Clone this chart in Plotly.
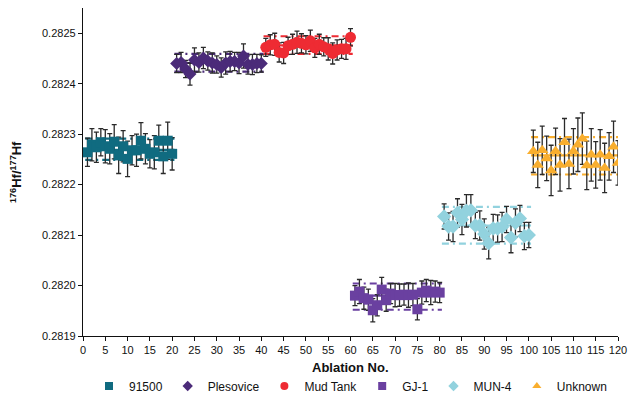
import plotly.graph_objects as go

# ---- data ----
names = ["91500", "Plesovice", "Mud Tank", "GJ-1", "MUN-4", "Unknown"]

x_91500 = list(range(1, 21))
y_91500 = [0.282264, 0.282279, 0.282274, 0.282284, 0.282276, 0.282271, 0.282285, 0.282258, 0.282276, 0.282251,
           0.282268, 0.282268, 0.282287, 0.282271, 0.282261, 0.282264, 0.282287, 0.282256, 0.282287, 0.282261]
e_91500 = [0.000028, 0.000032, 0.000030, 0.000027, 0.000033, 0.000030, 0.000034, 0.000036, 0.000031, 0.000035,
           0.000029, 0.000032, 0.000036, 0.000030, 0.000028, 0.000033, 0.000031, 0.000034, 0.000037, 0.000032]

x_ples = list(range(21, 41))
y_ples = [0.282440, 0.282442, 0.282429, 0.282419, 0.282447, 0.282442, 0.282451, 0.282445, 0.282441, 0.282438,
          0.282432, 0.282441, 0.282444, 0.282444, 0.282441, 0.282455, 0.282438, 0.282438, 0.282440, 0.282440]
e_ples = [0.000018, 0.000020, 0.000017, 0.000022, 0.000024, 0.000019, 0.000021, 0.000018, 0.000020, 0.000017,
          0.000019, 0.000022, 0.000020, 0.000018, 0.000021, 0.000024, 0.000019, 0.000020, 0.000018, 0.000017]

x_mud = list(range(41, 61))
y_mud = [0.282472, 0.282477, 0.282478, 0.282462, 0.282461, 0.282475, 0.282478, 0.282482, 0.282480, 0.282477,
         0.282485, 0.282471, 0.282478, 0.282473, 0.282469, 0.282460, 0.282467, 0.282469, 0.282469, 0.282492]
e_mud = [0.000018, 0.000020, 0.000022, 0.000019, 0.000021, 0.000017, 0.000020, 0.000022, 0.000019, 0.000018,
         0.000021, 0.000019, 0.000020, 0.000018, 0.000022, 0.000021, 0.000020, 0.000019, 0.000021, 0.000017]

x_gj1 = list(range(61, 81))
y_gj1 = [0.281980, 0.281988, 0.281975, 0.281972, 0.281951, 0.281961, 0.281992, 0.281971, 0.281984, 0.281981,
         0.281981, 0.281982, 0.281981, 0.281982, 0.281953, 0.281986, 0.281990, 0.281986, 0.281988, 0.281986]
e_gj1 = [0.000020, 0.000024, 0.000022, 0.000021, 0.000023, 0.000021, 0.000024, 0.000022, 0.000020, 0.000023,
         0.000022, 0.000021, 0.000024, 0.000022, 0.000021, 0.000023, 0.000022, 0.000024, 0.000021, 0.000020]

x_mun = list(range(81, 101))
y_mun = [0.282137, 0.282117, 0.282117, 0.282144, 0.282131, 0.282148, 0.282149, 0.282119, 0.282119, 0.282102,
         0.282084, 0.282113, 0.282113, 0.282116, 0.282131, 0.282095, 0.282124, 0.282133, 0.282098, 0.282100]
e_mun = [0.000025, 0.000027, 0.000030, 0.000028, 0.000030, 0.000032, 0.000031, 0.000026, 0.000029, 0.000030,
         0.000031, 0.000028, 0.000027, 0.000029, 0.000026, 0.000030, 0.000028, 0.000026, 0.000027, 0.000025]

x_unk = list(range(101, 121))
y_unk = [0.282266, 0.282239, 0.282268, 0.282252, 0.282228, 0.282266, 0.282239, 0.282284, 0.282241, 0.282266,
         0.282279, 0.282291, 0.282238, 0.282259, 0.282239, 0.282259, 0.282233, 0.282256, 0.282275, 0.282243]
e_unk = [0.000042, 0.000045, 0.000048, 0.000044, 0.000050, 0.000046, 0.000052, 0.000047, 0.000049, 0.000045,
         0.000053, 0.000051, 0.000048, 0.000052, 0.000046, 0.000050, 0.000049, 0.000047, 0.000051, 0.000044]

# reference lines (mean, upper, lower) per group
ref_mean = [0.282269, 0.282441, 0.282476, 0.281980, 0.282119, 0.282258]
ref_upper = [0.282291, 0.282459, 0.282494, 0.282004, 0.282156, 0.282294]
ref_lower = [0.282249, 0.282424, 0.282459, 0.281952, 0.282083, 0.282220]
group_start = [1, 21, 41, 61, 81, 101]
group_end = [20, 40, 60, 80, 100, 120]

x_ticks = list(range(0, 121, 5))
y_ticks = [0.2819, 0.2820, 0.2821, 0.2822, 0.2823, 0.2824, 0.2825]
x_title = "<b>Ablation No.</b>"
y_title = "<b><sup>176</sup>Hf/<sup>177</sup>Hf</b>"

# ---- style ----
colors = ["#106B80", "#4B2B79", "#EE2B33", "#6A40A0", "#92D2DE", "#F9AE2E"]
symbols = ["square", "diamond", "circle", "square", "diamond", "triangle-up"]
sizes = [10, 10, 11, 10, 11, 11]
legend_sizes = [8, 8, 8, 8, 8, 8]

xs = [x_91500, x_ples, x_mud, x_gj1, x_mun, x_unk]
ys = [y_91500, y_ples, y_mud, y_gj1, y_mun, y_unk]
es = [e_91500, e_ples, e_mud, e_gj1, e_mun, e_unk]

fig = go.Figure()

for i in range(6):
    xr = [group_start[i] - 0.5, group_end[i] + 0.5]
    fig.add_trace(go.Scatter(x=xr, y=[ref_mean[i]] * 2, mode="lines",
                             line=dict(color=colors[i], width=2.2), showlegend=False, hoverinfo="skip"))
    for v in (ref_upper[i], ref_lower[i]):
        fig.add_trace(go.Scatter(x=xr, y=[v] * 2, mode="lines",
                                 line=dict(color=colors[i], width=2.2, dash="7px,4px,2px,4px"),
                                 showlegend=False, hoverinfo="skip"))

for i in range(6):
    fig.add_trace(go.Scatter(
        x=xs[i], y=ys[i], mode="markers", name=names[i], showlegend=False,
        marker=dict(symbol=symbols[i], size=sizes[i], color=colors[i], line=dict(width=0)),
        error_y=dict(type="data", array=es[i], visible=True, color="#2a2a2a", thickness=1.3, width=2.5),
    ))

# legend entries (small symbols as in the reference)
for i in range(6):
    fig.add_trace(go.Scatter(
        x=[None], y=[None], mode="markers", name=names[i],
        marker=dict(symbol=symbols[i], size=legend_sizes[i], color=colors[i], line=dict(width=0)),
    ))

font = "Liberation Sans, Arial, sans-serif"
W, H = 639, 408
L, R, T, B = 83, 21, 8, 72
pw, ph = W - L - R, H - T - B

fig.update_layout(
    width=W, height=H,
    margin=dict(l=L, r=R, t=T, b=B),
    plot_bgcolor="white", paper_bgcolor="white",
    font=dict(family=font, size=11, color="#111"),
    showlegend=True,
    legend=dict(orientation="h", x=0.5, xanchor="center", xref="paper",
                y=1 - 386 / H, yanchor="middle", yref="container",
                font=dict(size=12, color="#111"), itemwidth=30, tracegroupgap=0),
    annotations=[
        dict(text=x_title, xref="paper", yref="paper", x=0.5, y=-(367 - (H - B)) / ph,
             xanchor="center", yanchor="middle", showarrow=False, font=dict(size=13, color="#111")),
        dict(text=y_title, xref="paper", yref="paper", x=-(L - 16) / pw, y=0.5, textangle=-90,
             xanchor="center", yanchor="middle", showarrow=False, font=dict(size=13, color="#111")),
    ],
)
fig.update_xaxes(range=[0, 120], tickvals=x_ticks, ticktext=[str(t) for t in x_ticks],
                 showline=True, linecolor="#111", linewidth=1.3, ticks="outside", ticklen=4,
                 tickcolor="#111", showgrid=False, zeroline=False, automargin=False)
fig.update_yaxes(range=[0.2819, 0.28255], tickvals=y_ticks, ticktext=[f"{t:.4f}" for t in y_ticks],
                 showline=True, linecolor="#111", linewidth=1.3, ticks="outside", ticklen=4,
                 tickcolor="#111", showgrid=False, zeroline=False, automargin=False)

fig.write_html("out.html", config={"displayModeBar": False},
               post_script="document.body.style.margin='0';")
